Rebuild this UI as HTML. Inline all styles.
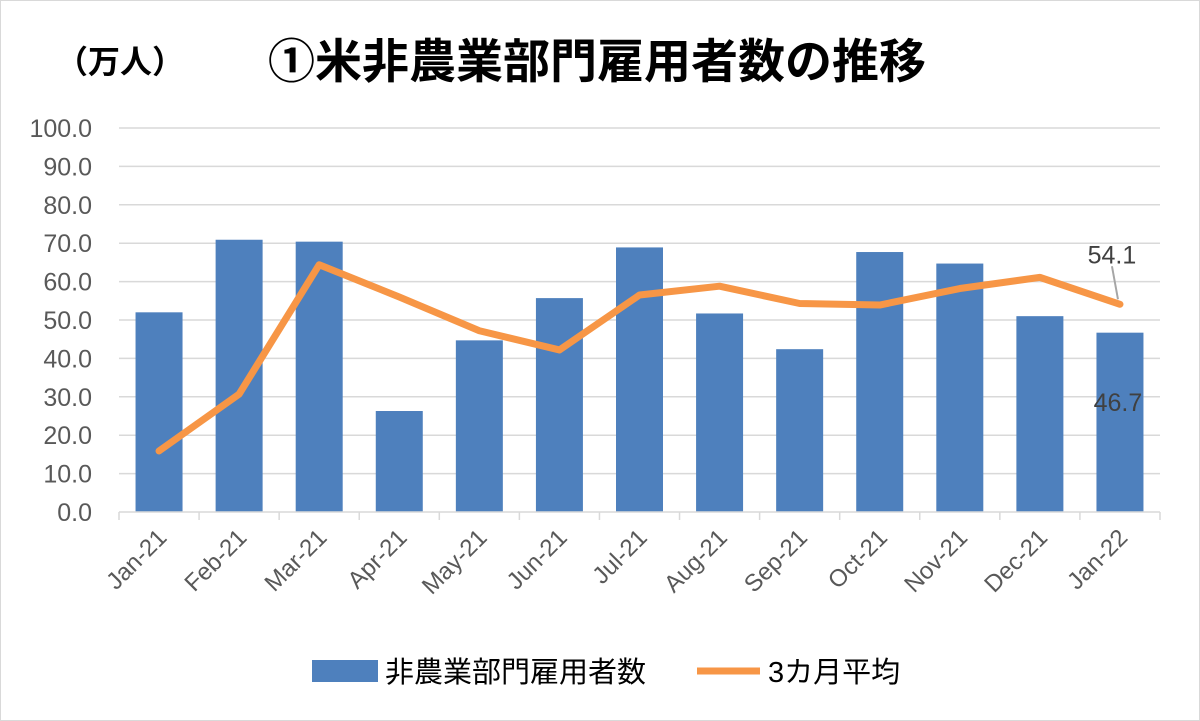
<!DOCTYPE html>
<html><head><meta charset="utf-8">
<style>
html,body{margin:0;padding:0;background:#fff;}
svg{display:block;font-family:"Liberation Sans","Noto Sans CJK JP",sans-serif;}
</style></head>
<body>
<svg id="chart" width="1200" height="721" viewBox="0 0 1200 721">
<rect x="0.5" y="0.5" width="1199" height="720" fill="#fff" stroke="#d9d9d9"/>
<text x="56" y="73" font-size="32" font-weight="bold" fill="#000">（万人）</text>
<text x="268" y="78" font-size="47" font-weight="bold" fill="#000">①米非農業部門雇用者数の推移</text>
<g id="grid"></g><g id="bars"></g><g id="line"></g><g id="axes"></g><g id="labels"></g>
<g>
<rect x="312" y="660" width="66" height="22" fill="#4e80bd"/>
<text x="385" y="682" font-size="29" fill="#000">非農業部門雇用者数</text>
<line x1="697" y1="671" x2="760" y2="671" stroke="#f79646" stroke-width="7"/>
<text x="768" y="682" font-size="29" fill="#000">3カ月平均</text>
</g>
</svg>
<script>
const categories=["Jan-21","Feb-21","Mar-21","Apr-21","May-21","Jun-21","Jul-21","Aug-21","Sep-21","Oct-21","Nov-21","Dec-21","Jan-22"];
const payrolls=[52.0,70.9,70.4,26.3,44.7,55.7,68.9,51.7,42.4,67.7,64.7,51.0,46.7];
const avg3m=[15.9,30.7,64.4,56.0,47.2,42.2,56.5,58.8,54.3,53.9,58.2,61.1,54.1];
const yTicks=[0,10,20,30,40,50,60,70,80,90,100];
const NS="http://www.w3.org/2000/svg";
const x0=119,x1=1160,y0=512,y1=128,yMax=100;
const band=(x1-x0)/categories.length;
function xC(i){return x0+band*(i+0.5);}
function yS(v){return y0-(v/yMax)*(y0-y1);}
function mk(tag,attrs,parent){const e=document.createElementNS(NS,tag);for(const k in attrs)e.setAttribute(k,attrs[k]);document.getElementById(parent).appendChild(e);return e;}
yTicks.forEach(t=>{
  if(t>0){const g=mk('line',{x1:x0,x2:x1,y1:yS(t),y2:yS(t),stroke:'#d9d9d9','stroke-width':1.5},'grid');
  
  }
  const l=mk('text',{x:92,y:yS(t)+9,'text-anchor':'end','font-size':25,fill:'#595959'},'axes');
  l.textContent=t.toFixed(1);
  
  
});
const ax=mk('line',{x1:x0,x2:x1,y1:y0,y2:y0,stroke:'#d9d9d9','stroke-width':1.5},'axes');


for(let i=0;i<=categories.length;i++){
  const t=mk('line',{x1:x0+band*i,x2:x0+band*i,y1:y0,y2:y0+8,stroke:'#d9d9d9','stroke-width':1.5},'axes');
  
  
}
categories.forEach((c,i)=>{
  const bw=47;
  const b=mk('rect',{x:xC(i)-bw/2,y:yS(payrolls[i]),width:bw,height:y0-yS(payrolls[i]),fill:'#4e80bd'},'bars');
  
  
  const tx=xC(i)+9,ty=y0+27;
  const l=mk('text',{x:tx,y:ty,'text-anchor':'end','font-size':24,fill:'#595959',transform:`rotate(-45 ${tx} ${ty})`},'axes');
  l.textContent=c;
  
  
});
const pts=avg3m.map((v,i)=>xC(i)+','+yS(v)).join(' ');
const pl=mk('polyline',{points:pts,fill:'none',stroke:'#f79646','stroke-width':7,'stroke-linejoin':'round','stroke-linecap':'round'},'line');


const n=categories.length-1;
const ll=mk('line',{x1:xC(n)-8,y1:yS(avg3m[n])-38,x2:xC(n)-2,y2:yS(avg3m[n])-5,stroke:'#a6a6a6','stroke-width':2},'labels');


const la=mk('text',{x:xC(n)-8,y:yS(avg3m[n])-41,'text-anchor':'middle','font-size':25,fill:'#404040'},'labels');
la.textContent=avg3m[n].toFixed(1);


const lb=mk('text',{x:xC(n)-2,y:411,'text-anchor':'middle','font-size':25,fill:'#404040'},'labels');
lb.textContent=payrolls[n].toFixed(1);


</script>
</body></html>
